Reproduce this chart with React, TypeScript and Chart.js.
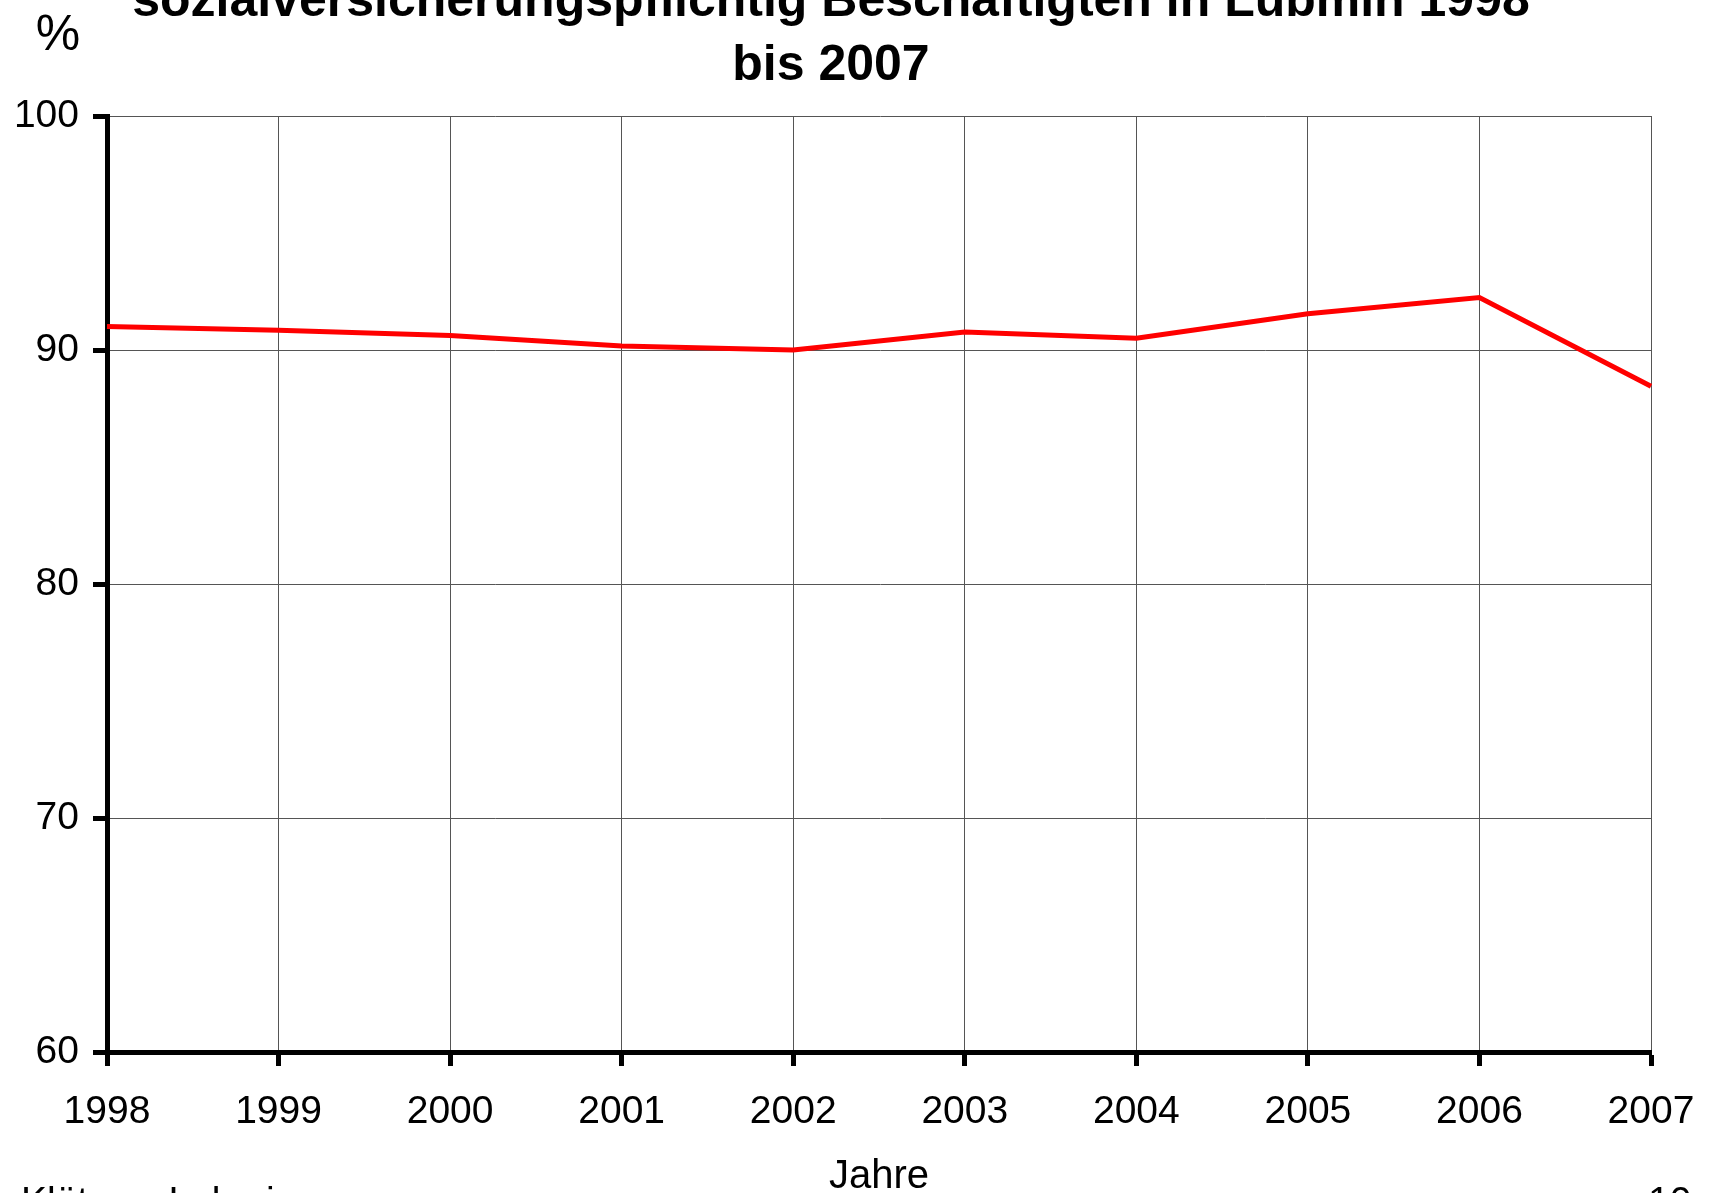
import React, { useEffect, useRef } from "react";
import { Chart, registerables } from "chart.js";

Chart.register(...registerables);

const years: string[] = ["1998", "1999", "2000", "2001", "2002", "2003", "2004", "2005", "2006", "2007"];
const shares: number[] = [91.0, 90.84, 90.62, 90.17, 90.0, 90.77, 90.5, 91.55, 92.24, 88.45];
const titleLines: string[] = ["sozialversicherungspflichtig Beschäftigten in Lubmin 1998", "bis 2007"];
const yUnit = "%";
const xTitle = "Jahre";
const footerLeft = "Klützow Lubmin";
const footerRight = "10";

const FONT = "'Liberation Sans', Arial, sans-serif";

const textPlugin = {
  id: "textPlugin",
  afterDraw(chart: any) {
    const ctx = chart.ctx as CanvasRenderingContext2D;
    ctx.save();
    ctx.fillStyle = "#000";
    ctx.textBaseline = "alphabetic";
    ctx.textAlign = "center";
    ctx.font = `bold 50px ${FONT}`;
    ctx.fillText(titleLines[0], 831, 16);
    ctx.fillText(titleLines[1], 831, 80);
    ctx.font = `50px ${FONT}`;
    ctx.fillText(yUnit, 58, 50);
    ctx.textAlign = "left";
    ctx.font = `39px ${FONT}`;
    ctx.fillText(footerLeft, 21, 1214);
    ctx.fillText(footerRight, 1648, 1214);
    ctx.restore();
  },
};

export default function App() {
  const ref = useRef<HTMLCanvasElement | null>(null);
  useEffect(() => {
    document.body.style.margin = "0";
    document.body.style.overflow = "hidden";
    const canvas = ref.current;
    if (!canvas) return;
    const chart = new Chart(canvas, {
      type: "line",
      data: {
        labels: years,
        datasets: [
          {
            data: shares,
            borderColor: "#ff0000",
            borderWidth: 5,
            pointRadius: 0,
            fill: false,
            tension: 0,
          },
        ],
      },
      options: {
        animation: false,
        responsive: false,
        maintainAspectRatio: false,
        devicePixelRatio: 1,
        layout: { padding: { left: 0, top: 116, right: 59, bottom: 0 } },
        plugins: {
          legend: { display: false },
          title: { display: false },
          tooltip: { enabled: false },
        },
        scales: {
          x: {
            type: "category",
            offset: false,
            grid: {
              offset: false,
              color: "#555",
              lineWidth: 1,
              tickColor: "#000",
              tickWidth: 5,
              tickLength: 14,
            },
            border: { display: true, color: "#000", width: 5 },
            ticks: {
              color: "#000",
              padding: 23,
              maxRotation: 0,
              autoSkip: false,
              font: { family: FONT, size: 39 },
            },
            title: {
              display: true,
              text: xTitle,
              color: "#000",
              padding: { top: 0, bottom: -4 },
              font: { family: FONT, size: 40, lineHeight: 1 },
            },
            afterFit(scale: any) {
              scale.height = 141;
              scale.paddingLeft = 0;
              scale.paddingRight = 0;
            },
          },
          y: {
            min: 60,
            max: 100,
            grid: {
              color: "#555",
              lineWidth: 1,
              tickColor: "#000",
              tickWidth: 5,
              tickLength: 14,
            },
            border: { display: true, color: "#000", width: 5 },
            ticks: {
              stepSize: 10,
              color: "#000",
              padding: 14,
              font: { family: FONT, size: 39 },
            },
            afterFit(scale: any) {
              scale.width = 107;
              scale.paddingTop = 0;
              scale.paddingBottom = 0;
            },
          },
        },
      },
      plugins: [textPlugin],
    });
    return () => chart.destroy();
  }, []);
  return <canvas ref={ref} width={1710} height={1193} style={{ display: "block" }} />;
}
